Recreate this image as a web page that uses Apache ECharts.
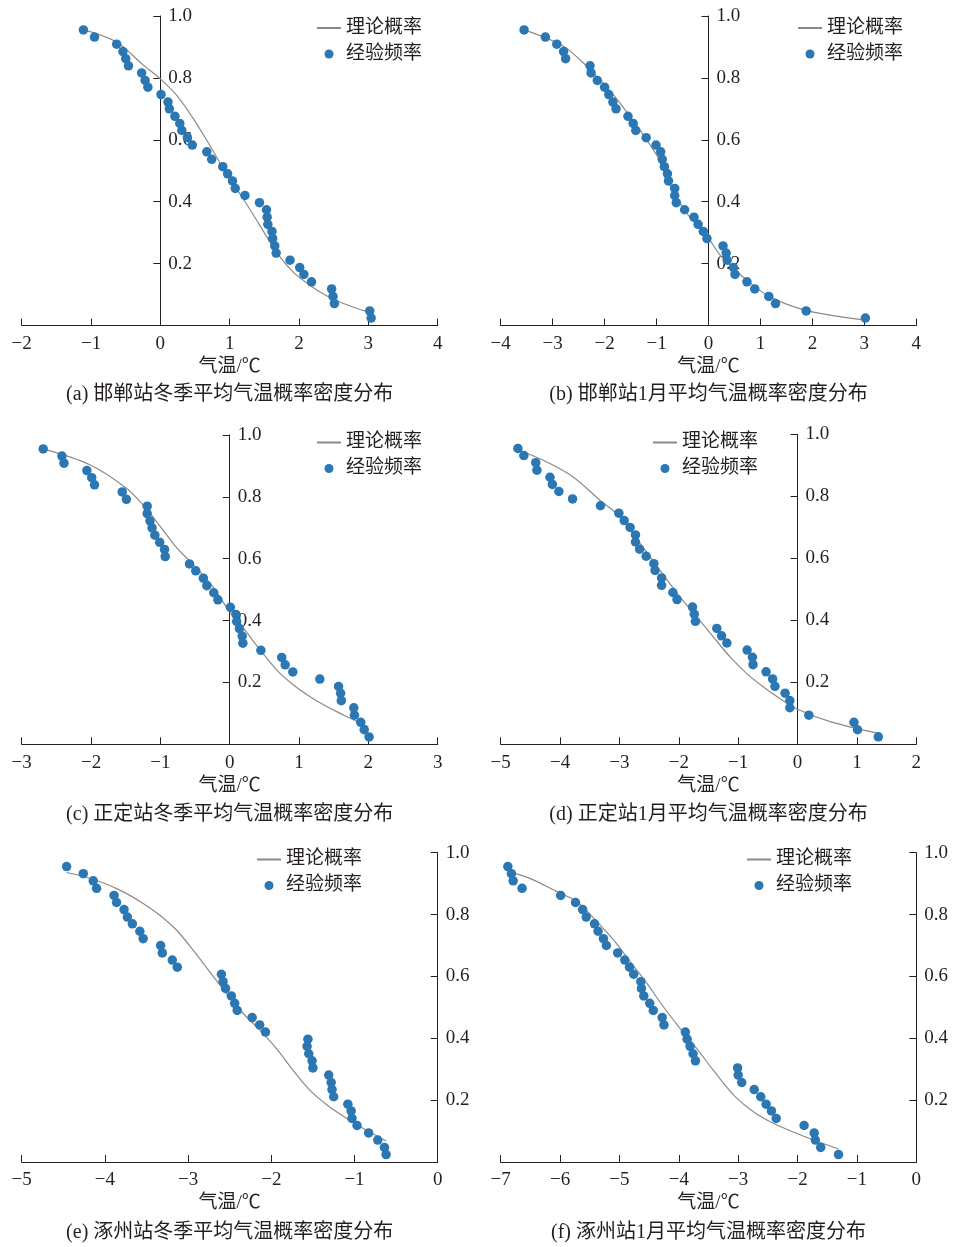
<!DOCTYPE html>
<html><head><meta charset="utf-8">
<script src="https://cdn.jsdelivr.net/npm/echarts@6/dist/echarts.min.js"></script>
<style>html,body{margin:0;padding:0;background:#fff}#c{width:954px;height:1247px}</style>
</head><body><div id="c"></div>
<script>
const empFreq = [0.955,0.932,0.909,0.885,0.862,0.839,0.816,0.792,0.770,0.746,0.722,0.700,0.676,0.653,0.630,0.607,0.583,0.561,0.537,0.513,0.490,0.467,0.443,0.420,0.397,0.374,0.350,0.327,0.304,0.281,0.257,0.234,0.211,0.187,0.165,0.141,0.118,0.094,0.071,0.047,0.024];

// (a) 邯郸站冬季
const tempA = [-1.11,-0.95,-0.63,-0.54,-0.50,-0.46,-0.27,-0.22,-0.18,0.01,0.11,0.13,0.21,0.28,0.31,0.39,0.46,0.67,0.74,0.90,0.97,1.04,1.08,1.22,1.43,1.53,1.54,1.55,1.61,1.62,1.65,1.67,1.87,2.01,2.07,2.18,2.47,2.49,2.51,3.02,3.04];
const curveXA = [-1.10,-0.63,-0.25,0,0.23,0.47,0.71,0.95,1.19,1.43,1.67,1.91,2.15,2.39,2.63,3.00];
const curveYA = [0.955,0.915,0.842,0.797,0.745,0.670,0.583,0.492,0.411,0.325,0.239,0.174,0.131,0.097,0.072,0.043];
// (b) 邯郸站1月
const tempB = [-3.55,-3.14,-2.92,-2.79,-2.75,-2.28,-2.26,-2.14,-2.00,-1.92,-1.84,-1.78,-1.55,-1.45,-1.40,-1.20,-1.01,-0.92,-0.89,-0.85,-0.79,-0.77,-0.65,-0.65,-0.62,-0.46,-0.28,-0.20,-0.10,-0.03,0.28,0.34,0.36,0.48,0.51,0.74,0.89,1.16,1.29,1.88,3.02];
const curveXB = [-3.55,-2.83,-2.47,-2.15,-1.83,-1.51,-1.19,-0.93,-0.68,-0.42,-0.16,0,0.22,0.48,0.73,1.12,1.50,2.02,2.98];
const curveYB = [0.955,0.906,0.858,0.804,0.745,0.675,0.600,0.530,0.433,0.363,0.314,0.282,0.228,0.185,0.147,0.099,0.069,0.043,0.018];
// (c) 正定站冬季
const tempC = [-2.69,-2.42,-2.39,-2.06,-1.99,-1.95,-1.55,-1.49,-1.19,-1.19,-1.15,-1.12,-1.08,-1.01,-0.94,-0.93,-0.58,-0.49,-0.38,-0.33,-0.23,-0.17,0.01,0.09,0.10,0.14,0.18,0.19,0.45,0.75,0.80,0.91,1.30,1.57,1.60,1.61,1.79,1.80,1.89,1.94,2.01];
const curveXC = [-2.69,-2.01,-1.49,-1.25,-1.00,-0.76,-0.57,-0.28,0,0.20,0.44,0.68,0.92,1.16,1.40,1.64,2.00];
const curveYC = [0.955,0.903,0.828,0.774,0.704,0.634,0.591,0.520,0.429,0.375,0.305,0.240,0.192,0.154,0.122,0.095,0.057];
// (d) 正定站1月
const tempD = [-4.71,-4.61,-4.41,-4.39,-4.17,-4.13,-4.02,-3.79,-3.32,-3.01,-2.92,-2.82,-2.73,-2.73,-2.66,-2.55,-2.42,-2.40,-2.29,-2.29,-2.10,-2.03,-1.77,-1.74,-1.72,-1.36,-1.28,-1.19,-0.85,-0.76,-0.75,-0.53,-0.42,-0.38,-0.21,-0.13,-0.13,0.19,0.95,1.01,1.36];
const curveXD = [-4.70,-4.23,-3.78,-3.33,-2.99,-2.65,-2.32,-1.98,-1.70,-1.42,-1.14,-0.86,-0.58,-0.30,0,0.55,1.36];
const curveYD = [0.950,0.912,0.863,0.788,0.734,0.648,0.562,0.476,0.412,0.347,0.283,0.229,0.186,0.148,0.113,0.073,0.035];
// (e) 涿州站冬季
const tempE = [-4.46,-4.26,-4.14,-4.10,-3.89,-3.86,-3.77,-3.73,-3.67,-3.58,-3.54,-3.33,-3.31,-3.19,-3.13,-2.60,-2.58,-2.55,-2.48,-2.44,-2.41,-2.23,-2.14,-2.07,-1.56,-1.57,-1.55,-1.51,-1.50,-1.31,-1.28,-1.27,-1.25,-1.08,-1.04,-1.03,-0.97,-0.83,-0.72,-0.64,-0.62];
const curveXE = [-4.46,-4.14,-3.82,-3.54,-3.34,-3.14,-2.94,-2.74,-2.54,-2.34,-2.14,-1.94,-1.74,-1.54,-1.33,-1.13,-0.93,-0.62];
const curveYE = [0.936,0.914,0.879,0.836,0.798,0.750,0.685,0.615,0.545,0.481,0.427,0.367,0.297,0.233,0.184,0.147,0.114,0.068];
// (f) 涿州站1月
const tempF = [-6.88,-6.82,-6.79,-6.64,-5.99,-5.74,-5.62,-5.56,-5.42,-5.36,-5.27,-5.22,-5.03,-4.91,-4.83,-4.76,-4.64,-4.63,-4.59,-4.49,-4.43,-4.28,-4.25,-3.89,-3.86,-3.81,-3.76,-3.72,-3.01,-3.00,-2.94,-2.73,-2.62,-2.53,-2.44,-2.36,-1.89,-1.72,-1.70,-1.61,-1.31];
const curveXF = [-6.87,-6.51,-6.00,-5.72,-5.38,-5.10,-4.82,-4.54,-4.26,-3.98,-3.70,-3.42,-3.08,-2.75,-2.41,-2.02,-1.73,-1.31];
const curveYF = [0.939,0.917,0.869,0.842,0.777,0.718,0.648,0.578,0.502,0.432,0.367,0.297,0.217,0.163,0.125,0.093,0.071,0.042];

const xMins = [-2,-4,-3,-5,-5,-7];
const xMaxs = [4,4,3,2,0,0];
const captions = ['(a) 邯郸站冬季平均气温概率密度分布','(b) 邯郸站1月平均气温概率密度分布','(c) 正定站冬季平均气温概率密度分布','(d) 正定站1月平均气温概率密度分布','(e) 涿州站冬季平均气温概率密度分布','(f) 涿州站1月平均气温概率密度分布'];
const seriesNames = ['理论概率','经验频率'];
const xName = '气温/℃';

const temps = [tempA,tempB,tempC,tempD,tempE,tempF];
const cxs = [curveXA,curveXB,curveXC,curveXD,curveXE,curveXF];
const cys = [curveYA,curveYB,curveYC,curveYD,curveYE,curveYF];

const FONT = '"Liberation Serif","Noto Sans CJK SC",serif';
const INK = '#231f20';
const DOT = '#2a77b3';
const FS = 19;

const grids = [
  {left:21.7,top:16,width:416,height:309.5},
  {left:500.7,top:16,width:415.6,height:309.5},
  {left:21.7,top:435,width:416,height:309.3},
  {left:500.7,top:434.5,width:415.6,height:309.8},
  {left:21.7,top:852.7,width:416,height:309.3},
  {left:500.7,top:852.7,width:415.6,height:309.3}
];
const legendPos = [[316,18.5],[797,18.5],[316,433],[652,433],[256,850],[746,850]];
const captionY = [395,395,815,815,1233,1233];

const minus = v => v < 0 ? '\u2212' + (-v) : String(v);

const option = {
  animation:false,
  backgroundColor:'#fff',
  textStyle:{fontFamily:FONT},
  grid: grids.map(g => Object.assign({containLabel:false, outerBoundsMode:'none'}, g)),
  xAxis: grids.map((g,i) => ({
    type:'value', gridIndex:i, min:xMins[i], max:xMaxs[i], interval:1,
    name:xName, nameLocation:'middle', nameGap:32,
    nameTextStyle:{color:INK,fontSize:FS,fontFamily:FONT},
    axisLine:{show:true,onZero:false,lineStyle:{color:INK,width:1}},
    axisTick:{show:true,inside:true,length:7,lineStyle:{color:INK}},
    axisLabel:{color:INK,fontSize:FS,fontFamily:FONT,margin:9,formatter:minus},
    splitLine:{show:false}
  })),
  yAxis: grids.map((g,i) => {
    // y axis sits where the temperature is 0 on the x axis
    const atRight = xMaxs[i] === 0;
    const frac = (0 - xMins[i]) / (xMaxs[i] - xMins[i]);
    return {
      type:'value', gridIndex:i, min:0, max:1, interval:0.2,
      position: atRight ? 'right' : 'left',
      offset: atRight ? 0 : -frac * g.width,
      axisLine:{show:true,onZero:false,lineStyle:{color:INK,width:1}},
      axisTick:{show:true,inside:atRight,length:7,lineStyle:{color:INK}},
      axisLabel:{inside:!atRight,color:INK,fontSize:FS,fontFamily:FONT,margin:8,
        formatter:v => v === 0 ? '' : v.toFixed(1)},
      splitLine:{show:false}
    };
  }),
  legend: legendPos.map((p,i) => ({
    orient:'vertical', left:p[0], top:p[1], padding:0,
    itemWidth:24, itemHeight:9, itemGap:7,
    data:[{name:seriesNames[0], itemStyle:{opacity:0, color:'rgba(0,0,0,0)', borderWidth:0}}, {name:seriesNames[1]}],
    textStyle:{color:INK,fontSize:FS,fontFamily:FONT}
  })),
  series: [],
  graphic: captions.map((t,i) => ({
    type:'text',
    x: grids[i].left + grids[i].width/2,
    y: captionY[i],
    style:{text:t, fill:INK, font:'20px ' + FONT, textAlign:'center', textVerticalAlign:'middle'}
  }))
};

for (let i = 0; i < 6; i++) {
  option.series.push({
    name:seriesNames[0], type:'line', xAxisIndex:i, yAxisIndex:i,
    data: cxs[i].map((x,k) => [x, cys[i][k]]),
    smooth:0.35, symbol:'none', showSymbol:false,
    lineStyle:{color:'#8a8a8a',width:1.2}, itemStyle:{color:'#8a8a8a'}, z:2
  });
  option.series.push({
    name:seriesNames[1], type:'scatter', xAxisIndex:i, yAxisIndex:i,
    data: temps[i].map((x,k) => [x, empFreq[k]]),
    symbol:'circle', symbolSize:9.5, itemStyle:{color:DOT,opacity:1}, z:3
  });
}

const chart = echarts.init(document.getElementById('c'), null, {renderer:'canvas'});
chart.setOption(option);
</script>
</body></html>
